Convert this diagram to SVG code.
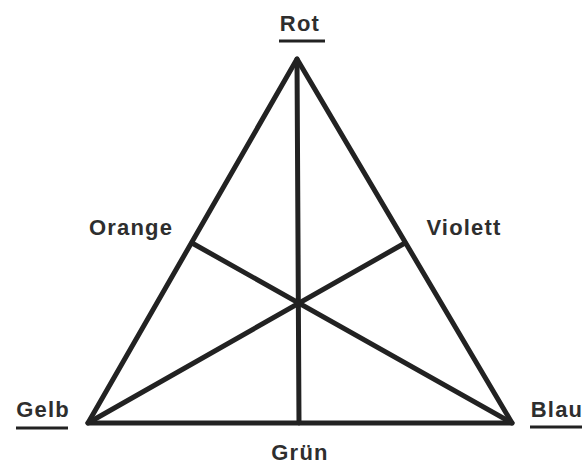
<svg xmlns="http://www.w3.org/2000/svg" width="586" height="466" viewBox="0 0 586 466">
<style>
.lbl{font-family:"Liberation Sans",Arial,sans-serif;font-weight:bold;font-size:22px;fill:#2e2e2e;text-anchor:middle;letter-spacing:1.2px}
.ul{stroke:#222;stroke-width:3}
.edge{stroke:#222;stroke-width:5;stroke-linecap:round;stroke-linejoin:round;fill:none}
</style>
<rect width="586" height="466" fill="#fff"/>
<g id="connectors">
<polygon class="edge" points="297,59 88,423 512,423"/>
<line class="edge" x1="297" y1="59" x2="299" y2="423"/>
<line class="edge" x1="88" y1="423" x2="405" y2="243"/>
<line class="edge" x1="512" y1="423" x2="192" y2="243"/>
</g>
<g id="rot"><text class="lbl" x="300" y="31">Rot</text><line class="ul" x1="279" y1="41" x2="325" y2="41"/></g>
<g id="gelb"><text class="lbl" x="43" y="417">Gelb</text><line class="ul" x1="16" y1="428" x2="68" y2="428"/></g>
<g id="blau"><text class="lbl" x="557" y="417">Blau</text><line class="ul" x1="530" y1="427" x2="582" y2="427"/></g>
<g id="gruen"><text class="lbl" x="300" y="460">Grün</text></g>
<g id="orange"><text class="lbl" x="131" y="235">Orange</text></g>
<g id="violett"><text class="lbl" x="464" y="235">Violett</text></g>
</svg>
